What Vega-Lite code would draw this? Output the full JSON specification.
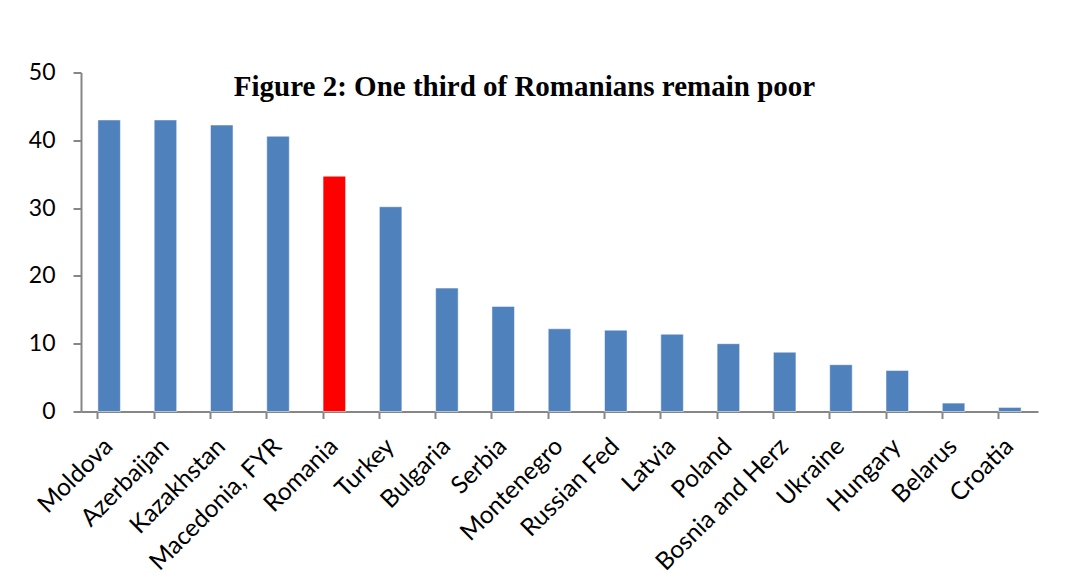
{
  "$schema": "https://vega.github.io/schema/vega-lite/v6.json",
  "autosize": {"type": "none"},
  "padding": {"left": 81, "top": 72.5, "right": 32, "bottom": 171},
  "width": 957,
  "height": 339,
  "background": "white",
  "data": {
    "values": [
      {"country": "Moldova", "value": 43.0, "group": "other"},
      {"country": "Azerbaijan", "value": 43.0, "group": "other"},
      {"country": "Kazakhstan", "value": 42.25, "group": "other"},
      {"country": "Macedonia, FYR", "value": 40.6, "group": "other"},
      {"country": "Romania", "value": 34.7, "group": "Romania"},
      {"country": "Turkey", "value": 30.2, "group": "other"},
      {"country": "Bulgaria", "value": 18.2, "group": "other"},
      {"country": "Serbia", "value": 15.5, "group": "other"},
      {"country": "Montenegro", "value": 12.2, "group": "other"},
      {"country": "Russian Fed", "value": 12.0, "group": "other"},
      {"country": "Latvia", "value": 11.4, "group": "other"},
      {"country": "Poland", "value": 10.0, "group": "other"},
      {"country": "Bosnia and Herz", "value": 8.75, "group": "other"},
      {"country": "Ukraine", "value": 6.9, "group": "other"},
      {"country": "Hungary", "value": 6.05, "group": "other"},
      {"country": "Belarus", "value": 1.24, "group": "other"},
      {"country": "Croatia", "value": 0.6, "group": "other"}
    ]
  },
  "title": {
    "text": "Figure 2: One third of Romanians remain poor",
    "font": "Liberation Serif",
    "fontSize": 29,
    "fontWeight": "bold",
    "color": "black",
    "anchor": "middle",
    "frame": "group",
    "dx": -35,
    "dy": 44
  },
  "mark": {"type": "bar", "stroke": "#ffffff", "strokeOpacity": 0.5, "strokeWidth": 1},
  "encoding": {
    "x": {
      "field": "country",
      "type": "nominal",
      "sort": null,
      "scale": {"paddingInner": 0.6, "paddingOuter": 0.3},
      "axis": {
        "title": null,
        "labelAngle": -45,
        "labelAlign": "right",
        "labelBaseline": "middle",
        "labelFont": "Lato",
        "labelFontSize": 24.5,
        "labelColor": "black",
        "labelPadding": 24,
        "bandPosition": 0,
        "ticks": true,
        "tickSize": 7,
        "tickColor": "#868686",
        "tickWidth": 2,
        "domainColor": "#868686",
        "domainWidth": 2,
        "labelOverlap": false
      }
    },
    "y": {
      "field": "value",
      "type": "quantitative",
      "scale": {"domain": [0, 50], "nice": false},
      "axis": {
        "title": null,
        "values": [0, 10, 20, 30, 40, 50],
        "grid": false,
        "labelFont": "Lato",
        "labelFontSize": 23,
        "labelColor": "black",
        "labelPadding": 18,
        "tickSize": 8,
        "tickColor": "#868686",
        "tickWidth": 2,
        "domainColor": "#868686",
        "domainWidth": 2
      }
    },
    "color": {
      "field": "group",
      "type": "nominal",
      "scale": {"domain": ["other", "Romania"], "range": ["#4F81BD", "#FF0000"]},
      "legend": null
    }
  },
  "config": {"view": {"stroke": null}}
}
